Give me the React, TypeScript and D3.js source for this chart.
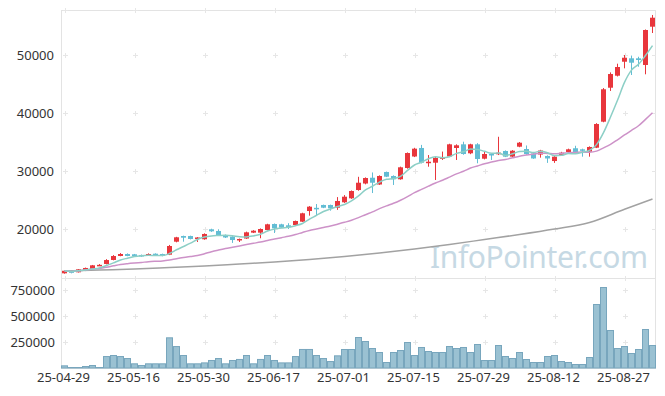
import React, { useEffect, useRef } from 'react';
import * as d3 from 'd3';

const dates = [
  '25-04-29', '25-04-30', '25-05-02', '25-05-07', '25-05-08', '25-05-09', '25-05-12', '25-05-13', '25-05-14', '25-05-15',
  '25-05-16', '25-05-19', '25-05-20', '25-05-21', '25-05-22', '25-05-23', '25-05-26', '25-05-27', '25-05-28', '25-05-29',
  '25-05-30', '25-06-02', '25-06-04', '25-06-05', '25-06-09', '25-06-10', '25-06-11', '25-06-12', '25-06-13', '25-06-16',
  '25-06-17', '25-06-18', '25-06-19', '25-06-20', '25-06-23', '25-06-24', '25-06-25', '25-06-26', '25-06-27', '25-06-30',
  '25-07-01', '25-07-02', '25-07-03', '25-07-04', '25-07-07', '25-07-08', '25-07-09', '25-07-10', '25-07-11', '25-07-14',
  '25-07-15', '25-07-16', '25-07-17', '25-07-18', '25-07-21', '25-07-22', '25-07-23', '25-07-24', '25-07-25', '25-07-28',
  '25-07-29', '25-07-30', '25-07-31', '25-08-01', '25-08-04', '25-08-05', '25-08-06', '25-08-07', '25-08-08', '25-08-11',
  '25-08-12', '25-08-13', '25-08-14', '25-08-18', '25-08-19', '25-08-20', '25-08-21', '25-08-22', '25-08-25', '25-08-26',
  '25-08-27', '25-08-28', '25-08-29', '25-09-01', '25-09-02',
];

const opens = [
  12360, 12700, 12535, 12810, 13100, 13750, 13970, 14660, 15350, 15690,
  15640, 15520, 15480, 15740, 15690, 15570, 17810, 18790, 18790, 18450,
  18230, 19950, 19660, 18970, 18680, 18100, 18360, 19370, 19370, 19830,
  20860, 20810, 20640, 20690, 21260, 23100, 23650, 24140, 24140, 23670,
  24600, 25290, 26720, 27840, 28840, 27670, 29830, 29140, 28570, 30520,
  32500, 33970, 31500, 31430, 32120, 32500, 33970, 34600, 33050, 34600,
  32120, 32930, 32880, 33450, 32470, 34190, 33790, 33020, 32840, 32590,
  31720, 32760, 33280, 33920, 33740, 33330, 34020, 38500, 44360, 46430,
  48840, 49430, 49430, 48280, 54880,
];

const highs = [
  12850, 12750, 13100, 13350, 13800, 13950, 14800, 15500, 15850, 15800,
  15700, 15600, 15800, 15800, 15750, 17250, 18650, 18850, 18850, 18600,
  19250, 20050, 19950, 19050, 18750, 18350, 19550, 19800, 20100, 20900,
  20950, 20900, 21000, 21450, 22800, 23950, 24300, 24200, 24200, 25500,
  25850, 26650, 29000, 28900, 29750, 29250, 29900, 29250, 30750, 33200,
  34000, 34500, 32750, 32400, 33350, 34700, 34600, 35050, 34700, 34800,
  33450, 33000, 35900, 33550, 33600, 35000, 34400, 33100, 33650, 32700,
  32600, 33300, 33850, 34350, 33850, 34250, 38250, 44300, 47000, 48500,
  50000, 49900, 49700, 54400, 56900,
];

const lows = [
  12300, 12350, 12500, 12750, 13050, 13650, 13900, 14600, 15300, 15300,
  15250, 15200, 15400, 15350, 15300, 15500, 17700, 17810, 18200, 17760,
  18150, 19500, 18800, 18450, 17600, 17760, 18300, 19300, 18400, 19750,
  19310, 20150, 20000, 20600, 21200, 22300, 22290, 23600, 23160, 23300,
  24500, 25200, 26600, 27700, 26200, 27600, 28950, 27590, 28500, 30400,
  32400, 31300, 30740, 28450, 31900, 32400, 31900, 32800, 32900, 31330,
  32000, 31900, 32750, 32400, 32400, 34100, 32800, 32100, 32300, 31400,
  31400, 32700, 33200, 33200, 32470, 32470, 33950, 38400, 43800, 46300,
  47700, 46550, 47980, 46670, 53790,
];

const closes = [
  12800, 12550, 13050, 13280, 13740, 13820, 14650, 15340, 15690, 15350,
  15300, 15350, 15690, 15400, 15350, 17070, 18570, 18500, 18280, 18540,
  19140, 19600, 18850, 18540, 18100, 18280, 19430, 19710, 20000, 20810,
  20120, 20230, 20290, 21380, 22710, 23850, 23500, 23670, 23570, 24830,
  25570, 26550, 27980, 28790, 27980, 29140, 29020, 28570, 30640, 33100,
  33850, 31430, 31600, 32240, 32360, 34600, 34430, 32930, 34600, 32070,
  32930, 32760, 33160, 32470, 33500, 34880, 32930, 32160, 33530, 32160,
  32470, 33160, 33740, 33280, 33500, 34140, 38100, 44090, 46720, 47930,
  49530, 48670, 49140, 54310, 56430,
];

const volumes = [
  25600, 9600, 9600, 19200, 28800, 9600, 115000, 125000, 115000, 96000,
  45000, 29000, 45000, 45000, 45000, 295000, 211000, 125000, 45000, 45000,
  54000, 77000, 96000, 45000, 77000, 87000, 125000, 45000, 87000, 125000,
  77000, 54000, 54000, 115000, 183000, 183000, 125000, 96000, 67000, 121800,
  182700, 182700, 298000, 259600, 192300, 153800, 57700, 153800, 173000, 250000,
  125000, 202000, 163500, 153800, 153800, 211500, 192300, 202000, 153800, 230800,
  76900, 76900, 221100, 115400, 96200, 153800, 86500, 57700, 57700, 115400,
  125000, 67300, 57700, 38500, 38500, 105800, 615400, 778800, 365400, 192300,
  211500, 144200, 182700, 375000, 221100,
];

// long moving average (needs history before the window)
const longMaDates = [
  '25-04-29', '25-05-09', '25-05-16', '25-05-23', '25-05-30', '25-06-10', '25-06-17', '25-06-24', '25-07-01',
  '25-07-08', '25-07-15', '25-07-22', '25-07-29', '25-08-05', '25-08-12', '25-08-20', '25-08-27', '25-09-02',
];
const longMa = [
  12760, 12930, 13100, 13360, 13620, 13970, 14310, 14740, 15260,
  15860, 16550, 17330, 18190, 19050, 20000, 21120, 23400, 25170,
];

const xTicks = ['25-04-29', '25-05-16', '25-05-30', '25-06-17', '25-07-01', '25-07-15', '25-07-29', '25-08-12', '25-08-27'];
const priceTicks = [20000, 30000, 40000, 50000];
const volumeTicks = [250000, 500000, 750000];

const movingAverage = (values: number[], n: number) =>
  values.map((_, i) => d3.mean(values.slice(Math.max(0, i - n + 1), i + 1)) as number);

const App = () => {
  const chart = useRef<SVGSVGElement>(null);

  useEffect(() => {
    const left = 61;
    const right = 656;
    const top = 10;
    const split = 278;
    const bottom = 368;
    const font = '"Noto Sans", sans-serif';

    const svg = d3.select(chart.current);
    svg.selectAll('*').remove();

    const x = d3.scaleBand().domain(dates).range([left, right]).padding(0);
    const cx = (d: string) => x(d)! + x.bandwidth() / 2;
    const y = d3.scaleLinear().domain([11552, 57758]).range([split, top]);
    const yv = d3.scaleLinear().domain([0, 865385]).range([bottom, split]);

    // watermark
    svg.append('text')
      .attr('x', 648).attr('y', 268)
      .attr('text-anchor', 'end')
      .attr('font-family', font)
      .attr('font-size', 30)
      .attr('textLength', 218)
      .attr('fill', '#c6d9e4')
      .text('InfoPointer.com');

    // frame
    const frame = svg.append('g').attr('stroke', '#e3e3e3').attr('fill', 'none');
    frame.append('rect').attr('x', left + 0.5).attr('y', top + 0.5).attr('width', right - left - 1).attr('height', bottom - top);
    frame.append('line').attr('x1', left).attr('x2', right).attr('y1', split + 0.5).attr('y2', split + 0.5);

    // grid crosses
    const rows = [top, ...priceTicks.map(y), split, ...volumeTicks.map(yv)];
    const crosses = svg.append('g').attr('stroke', '#e6e6e6');
    xTicks.forEach((t) => {
      rows.forEach((ry) => {
        const px = Math.round(cx(t)) + 0.5;
        const py = Math.round(ry) + 0.5;
        crosses.append('line').attr('x1', px - 2.5).attr('x2', px + 2.5).attr('y1', py).attr('y2', py);
        crosses.append('line').attr('x1', px).attr('x2', px).attr('y1', py - 2.5).attr('y2', py + 2.5);
      });
    });
    priceTicks.forEach((v) => {
      const py = Math.round(y(v)) + 0.5;
      crosses.append('line').attr('x1', right - 4).attr('x2', right).attr('y1', py).attr('y2', py);
    });

    // volume bars
    svg.append('g')
      .selectAll('rect')
      .data(dates)
      .enter()
      .append('rect')
      .attr('x', (d) => x(d)! + 0.5)
      .attr('width', x.bandwidth() - 1)
      .attr('y', (d, i) => yv(volumes[i]) + 0.5)
      .attr('height', (d, i) => bottom - yv(volumes[i]) - 0.5)
      .attr('fill', '#9ac1d2')
      .attr('stroke', '#78a6bd')
      .attr('stroke-width', 1);

    // candles
    const candles = svg.append('g')
      .selectAll('g')
      .data(dates)
      .enter()
      .append('g')
      .attr('fill', (d, i) => (closes[i] >= opens[i] ? '#e8363c' : '#62bdd4'))
      .attr('stroke', (d, i) => (closes[i] >= opens[i] ? '#e8363c' : '#62bdd4'));

    candles.append('line')
      .attr('x1', (d) => Math.floor(cx(d)) + 0.5)
      .attr('x2', (d) => Math.floor(cx(d)) + 0.5)
      .attr('y1', (d, i) => y(highs[i]))
      .attr('y2', (d, i) => y(lows[i]));

    candles.append('rect')
      .attr('stroke', 'none')
      .attr('x', (d) => Math.floor(cx(d)) - 2)
      .attr('width', 5)
      .attr('y', (d, i) => y(Math.max(opens[i], closes[i])))
      .attr('height', (d, i) => Math.max(1.5, Math.abs(y(opens[i]) - y(closes[i]))));

    // moving averages
    const line = d3.line<[string, number]>()
      .x((d) => cx(d[0]))
      .y((d) => y(d[1]))
      .curve(d3.curveMonotoneX);

    const ma5 = movingAverage(closes, 5);
    const ma20 = movingAverage(closes, 20);

    const series: [Array<[string, number]>, string][] = [
      [longMaDates.map((d, i) => [d, longMa[i]]), '#a2a2a2'],
      [dates.map((d, i) => [d, ma20[i]]), '#cd92c8'],
      [dates.map((d, i) => [d, ma5[i]]), '#8ccfc6'],
    ];
    series.forEach(([pts, color]) => {
      svg.append('path')
        .attr('d', line(pts))
        .attr('fill', 'none')
        .attr('stroke', color)
        .attr('stroke-width', 1.5);
    });

    // y axis labels
    svg.append('g')
      .selectAll('text')
      .data(priceTicks)
      .enter()
      .append('text')
      .attr('x', 54)
      .attr('y', (d) => y(d) + 5)
      .attr('text-anchor', 'end')
      .attr('font-family', font)
      .attr('font-size', 13)
      .attr('fill', '#333')
      .text((d) => d);

    svg.append('g')
      .selectAll('text')
      .data(volumeTicks)
      .enter()
      .append('text')
      .attr('x', 55)
      .attr('y', (d) => yv(d) + 5)
      .attr('text-anchor', 'end')
      .attr('font-family', font)
      .attr('font-size', 13)
      .attr('fill', '#333')
      .text((d) => d);

    // x axis labels
    svg.append('g')
      .selectAll('text')
      .data(xTicks)
      .enter()
      .append('text')
      .attr('x', (d) => cx(d) - 1)
      .attr('y', 382)
      .attr('text-anchor', 'middle')
      .attr('font-family', font)
      .attr('font-size', 13)
      .attr('fill', '#333')
      .text((d) => d);
  }, []);

  return (
    <svg
      ref={chart}
      width={665}
      height={396}
      style={{ position: 'absolute', left: 0, top: 0, background: '#fff' }}
    />
  );
};

export default App;
